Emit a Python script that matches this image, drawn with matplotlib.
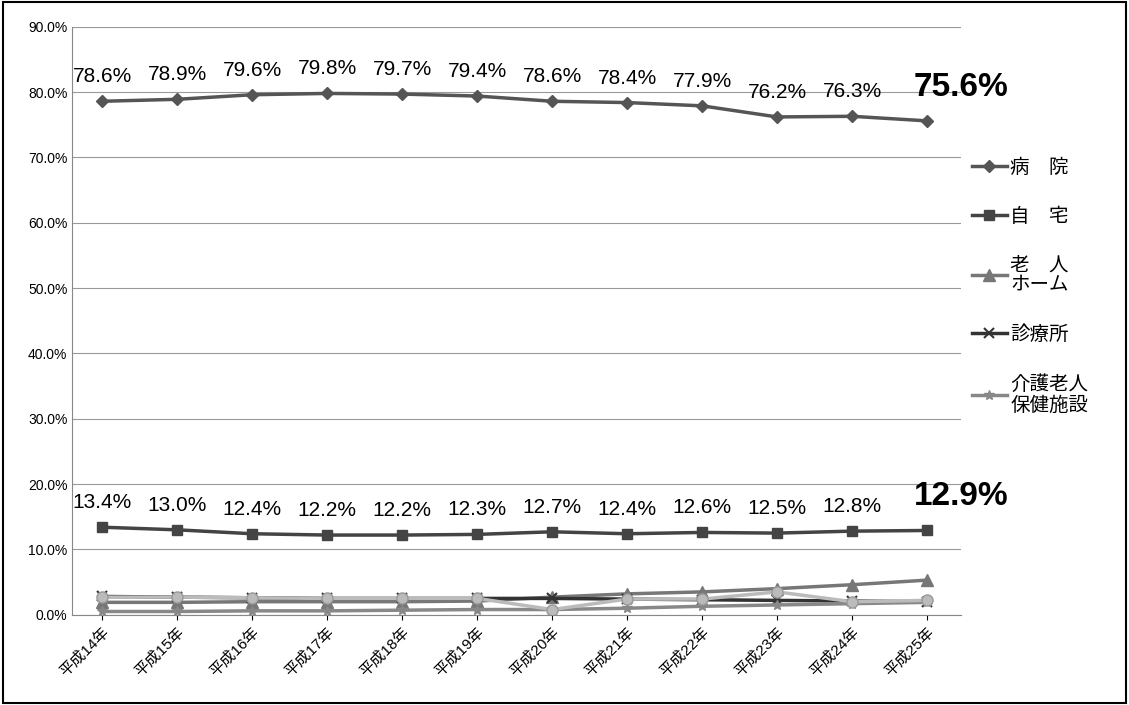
import matplotlib
matplotlib.use("Agg")
import matplotlib.pyplot as plt
from matplotlib.ticker import FuncFormatter

plt.rcParams['font.family'] = ['Liberation Sans', 'Noto Sans CJK JP', 'DejaVu Sans']

years = ["平成14年", "平成15年", "平成16年", "平成17年", "平成18年", "平成19年",
         "平成20年", "平成21年", "平成22年", "平成23年", "平成24年", "平成25年"]
hospital = [78.6, 78.9, 79.6, 79.8, 79.7, 79.4, 78.6, 78.4, 77.9, 76.2, 76.3, 75.6]
home = [13.4, 13.0, 12.4, 12.2, 12.2, 12.3, 12.7, 12.4, 12.6, 12.5, 12.8, 12.9]
nursing_home = [1.9, 1.9, 2.0, 2.0, 2.0, 2.1, 2.7, 3.2, 3.5, 4.0, 4.6, 5.3]
clinic = [2.8, 2.7, 2.6, 2.5, 2.5, 2.5, 2.5, 2.4, 2.3, 2.2, 2.1, 2.0]
roken = [0.5, 0.5, 0.6, 0.6, 0.7, 0.8, 0.8, 1.0, 1.3, 1.5, 1.7, 1.9]
other = [2.7, 2.7, 2.6, 2.5, 2.5, 2.5, 0.8, 2.4, 2.4, 3.5, 2.0, 2.2]

fig = plt.figure(figsize=(11.29, 7.05), dpi=100)
ax = fig.add_axes([0.064, 0.128, 0.787, 0.834])
x = range(len(years))

ax.plot(x, hospital, color="#555555", lw=2.5, marker="D", ms=6, label="病　院")
ax.plot(x, home, color="#444444", lw=2.5, marker="s", ms=7, label="自　宅")
ax.plot(x, nursing_home, color="#777777", lw=2.5, marker="^", ms=8, label="老　人\nホーム")
ax.plot(x, clinic, color="#333333", lw=2.5, marker="x", ms=7, mew=1.5, label="診療所")
ax.plot(x, roken, color="#888888", lw=2.5, marker="*", ms=7, label="介護老人\n保健施設")
ax.plot(x, other, color="#bbbbbb", lw=2.5, marker="o", ms=8, mfc="#bbbbbb", mec="#999999")

for i in range(len(years) - 1):
    ax.text(i, hospital[i] + 2.3, f"{hospital[i]}%", ha="center", va="bottom", fontsize=15)
    ax.text(i, home[i] + 2.3, f"{home[i]}%", ha="center", va="bottom", fontsize=15)
ax.text(len(years) - 1 + 0.45, hospital[-1] + 2.8, f"{hospital[-1]}%", ha="center", va="bottom",
        fontsize=24, fontweight="bold")
ax.text(len(years) - 1 + 0.45, home[-1] + 2.8, f"{home[-1]}%", ha="center", va="bottom",
        fontsize=24, fontweight="bold")

ax.set_ylim(0, 90)
ax.set_yticks(range(0, 91, 10))
ax.yaxis.set_major_formatter(FuncFormatter(lambda v, p: f"{v:.1f}%"))
ax.set_xlim(-0.4, len(years) - 0.55)
ax.set_xticks(list(x))
ax.set_xticklabels(years, rotation=45, ha="right", rotation_mode="anchor", fontsize=11)
ax.tick_params(axis="y", labelsize=10, length=0)
ax.grid(axis="y", color="#999999", lw=0.8)
ax.set_axisbelow(True)
for s in ["top", "right"]:
    ax.spines[s].set_visible(False)
ax.spines["left"].set_color("#888888")
ax.spines["bottom"].set_color("#888888")

fig.legend(loc="upper left", bbox_to_anchor=(0.845, 0.8), frameon=False, fontsize=14,
           labelspacing=1.6, handlelength=1.8, handletextpad=0.2)

fig.patches.append(plt.Rectangle((0.003, 0.003), 0.994, 0.994, transform=fig.transFigure,
                                 fill=False, ec="black", lw=1.5))
fig.savefig("out.png", dpi=100)
